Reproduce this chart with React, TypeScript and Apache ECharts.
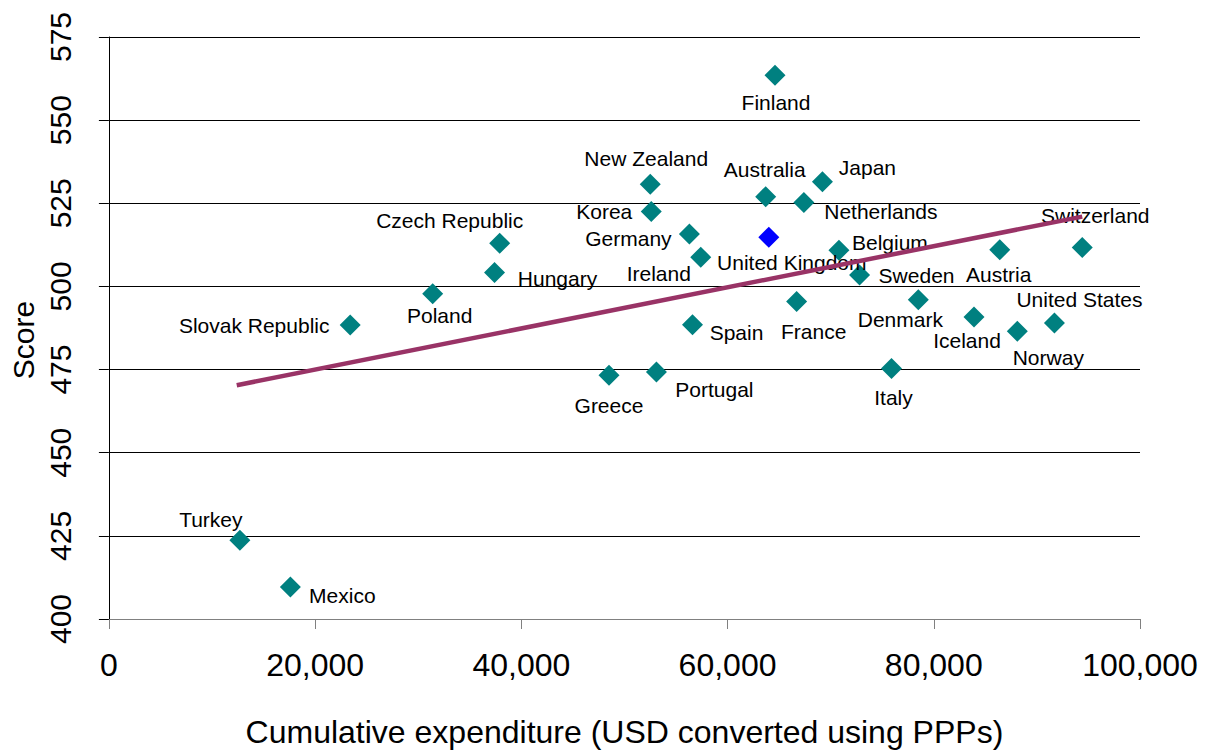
import React, { useEffect, useRef } from "react";
import * as echarts from "echarts";

// ---- Data ----
const countries = [
  "Finland", "New Zealand", "Korea", "Australia", "Japan", "Netherlands",
  "Germany", "Ireland", "United Kingdom", "Belgium", "Sweden", "France",
  "Czech Republic", "Hungary", "Poland", "Slovak Republic", "Greece", "Portugal",
  "Spain", "Italy", "Denmark", "Iceland", "Norway", "United States",
  "Austria", "Switzerland", "Turkey", "Mexico",
];
const expenditure = [
  64600, 52500, 52600, 63700, 69200, 67400,
  56300, 57400, 64000, 70800, 72800, 66700,
  37900, 37400, 31400, 23400, 48500, 53100,
  56600, 75900, 78500, 83900, 88100, 91700,
  86400, 94400, 12700, 17600,
];
const scores = [
  563.5, 530.7, 522.5, 527.0, 531.5, 525.2,
  515.8, 508.8, 514.8, 510.9, 503.4, 495.5,
  513.0, 504.2, 497.8, 488.4, 473.3, 474.3,
  488.5, 475.3, 496.0, 490.8, 486.5, 489.0,
  511.0, 511.7, 423.7, 409.6,
];
const highlighted = ["United Kingdom"];
const trendX = [12400, 94400];
const trendY = [470.3, 521.0];
const yTicks = { min: 400, max: 575, interval: 25 };
const xTicks = { min: 0, max: 100000, interval: 20000 };
const xAxisTitle = "Cumulative expenditure (USD converted using PPPs)";
const yAxisTitle = "Score";

// ---- Label placement (style, in px relative to marker centre) ----
const labelOffsets: Record<string, [number, number]> = {
  "Finland": [1, 27],
  "New Zealand": [-4, -26],
  "Korea": [-47, 0],
  "Australia": [-1, -27],
  "Japan": [45, -14],
  "Netherlands": [77, 9],
  "Germany": [-61, 5],
  "Ireland": [-42, 16],
  "United Kingdom": [23, 25],
  "Belgium": [51, -8],
  "Sweden": [57, 0],
  "France": [17, 30],
  "Czech Republic": [-50, -23],
  "Hungary": [63, 6],
  "Poland": [7, 22],
  "Slovak Republic": [-96, 0],
  "Greece": [0, 30],
  "Portugal": [58, 18],
  "Spain": [44, 8],
  "Italy": [2, 29],
  "Denmark": [-18, 20],
  "Iceland": [-7, 23],
  "Norway": [31, 26],
  "United States": [25, -24],
  "Austria": [-1, 25],
  "Switzerland": [13, -32],
  "Turkey": [-29, -21],
  "Mexico": [52, 8],
};

const FONT = "'Liberation Sans', Arial, sans-serif";

export default function App() {
  const ref = useRef<HTMLDivElement>(null);
  useEffect(() => {
    if (!ref.current) return;
    const chart = echarts.init(ref.current, null, { renderer: "svg" });
    const points = countries.map((name, i) => ({
      name,
      value: [expenditure[i], scores[i]],
      itemStyle: { color: highlighted.includes(name) ? "#0000FF" : "#008080", opacity: 1 },
      label: { offset: labelOffsets[name] || [0, 0] },
    }));
    chart.setOption({
      animation: false,
      backgroundColor: "#ffffff",
      textStyle: { fontFamily: FONT },
      grid: { left: 102, right: 65, top: 37, bottom: 133, containLabel: false },
      xAxis: {
        type: "value",
        min: xTicks.min,
        max: xTicks.max,
        interval: xTicks.interval,
        name: xAxisTitle,
        nameLocation: "middle",
        nameGap: 97,
        nameTextStyle: { fontSize: 32, color: "#000", fontFamily: FONT },
        axisLine: { show: true, lineStyle: { color: "#808080", width: 1 } },
        axisTick: { show: true, inside: false, length: 10, lineStyle: { color: "#808080" } },
        axisLabel: {
          fontSize: 32,
          color: "#000",
          margin: 30,
          fontFamily: FONT,
          formatter: (v: number) => v.toLocaleString("en-US"),
        },
        splitLine: { show: false },
      },
      yAxis: {
        type: "value",
        min: yTicks.min,
        max: yTicks.max,
        interval: yTicks.interval,
        name: yAxisTitle,
        nameLocation: "middle",
        nameGap: 63,
        nameRotate: 90,
        nameTextStyle: { fontSize: 30, color: "#000", fontFamily: FONT, padding: [0, 24, 0, 0] },
        axisLine: { show: true, lineStyle: { color: "#000", width: 1 } },
        axisTick: { show: true, inside: false, length: 10, lineStyle: { color: "#000" } },
        axisLabel: { fontSize: 30, color: "#000", rotate: 90, margin: 33, fontFamily: FONT },
        splitLine: { show: true, lineStyle: { color: "#000", width: 1 } },
      },
      series: [
        {
          type: "scatter",
          symbol: "diamond",
          symbolSize: 21,
          z: 2,
          data: points,
          itemStyle: { opacity: 1 },
          label: {
            show: true,
            position: "inside",
            formatter: "{b}",
            color: "#000",
            fontSize: 21,
            fontFamily: FONT,
          },
        },
        {
          type: "line",
          z: 3,
          symbol: "none",
          data: trendX.map((x, i) => [x, trendY[i]]),
          lineStyle: { color: "#993366", width: 4.5 },
        },
      ],
    });
    return () => chart.dispose();
  }, []);
  return (
    <div
      ref={ref}
      style={{ position: "fixed", left: 0, top: 0, width: 1205, height: 753, background: "#fff" }}
    />
  );
}
